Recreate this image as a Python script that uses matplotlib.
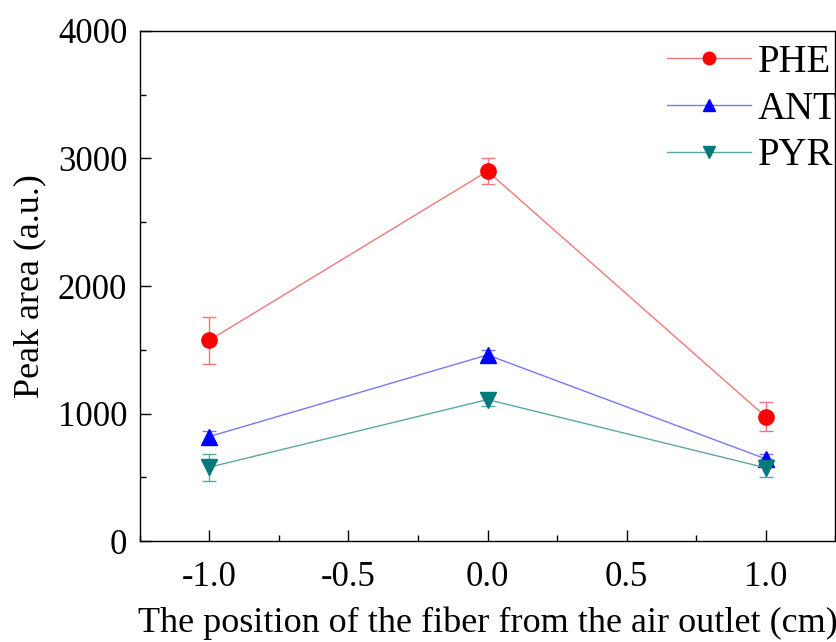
import numpy as np
import matplotlib.pyplot as plt
from matplotlib.ticker import MultipleLocator
from matplotlib.lines import Line2D

plt.rcParams['font.family'] = ['Liberation Serif', 'DejaVu Serif']

# positions (cm)
pos = [-1.0, 0.0, 1.0]

phe = [1575, 2900, 975]
phe_err = [185, 100, 115]
ant = [820, 1460, 645]
ant_err = [40, 40, 40]
pyr = [580, 1110, 575]
pyr_err = [105, 50, 70]

fig = plt.figure(figsize=(8.37, 6.42), dpi=100)
ax = fig.add_axes([0.167, 0.157, 0.831, 0.795])

series = [
    ("PHE", phe, phe_err, 'o', '#ff0000', '#f07878'),
    ("ANT", ant, ant_err, '^', '#0000ff', '#7878f0'),
    ("PYR", pyr, pyr_err, 'v', '#007a7a', '#5aa8a0'),
]
handles = []
for name, vals, err, mk, mc, lc in series:
    ax.errorbar(pos, vals, yerr=err, fmt='-', marker=mk, color=lc, mfc=mc, mec=mc,
                ms=11, lw=1.0, elinewidth=1.0, capsize=5, capthick=1.0)
    handles.append(Line2D([], [], color=lc, lw=1.0, marker=mk, mfc=mc, mec=mc,
                          ms=9, label=name))

ax.set_xlim(-1.25, 1.25)
ax.set_ylim(0, 4000)
ax.xaxis.set_major_locator(MultipleLocator(0.5))
ax.xaxis.set_minor_locator(MultipleLocator(0.25))
ax.yaxis.set_major_locator(MultipleLocator(1000))
ax.yaxis.set_minor_locator(MultipleLocator(500))
ax.set_xticks([-1.0, -0.5, 0.0, 0.5, 1.0])
ax.set_xticklabels(['-1.0', '-0.5', '0.0', '0.5', '1.0'])
ax.tick_params(which='major', direction='in', length=8, width=1, labelsize=25)
ax.tick_params(axis='x', which='major', pad=14)
ax.tick_params(axis='y', which='major', pad=9)
ax.tick_params(which='minor', direction='in', length=4, width=1)
for s in ax.spines.values():
    s.set_linewidth(1.0)

ax.set_xlabel('The position of the fiber from the air outlet (cm)', fontsize=26, labelpad=9)
ax.set_ylabel('Peak area (a.u.)', fontsize=26, labelpad=8)

ax.legend(handles=handles, loc='upper left', bbox_to_anchor=(0.725, 1.02), frameon=False,
          fontsize=28, handlelength=2.15, handletextpad=0.18, labelspacing=0.25,
          borderaxespad=0.2)

fig.savefig('out.png', dpi=100)
